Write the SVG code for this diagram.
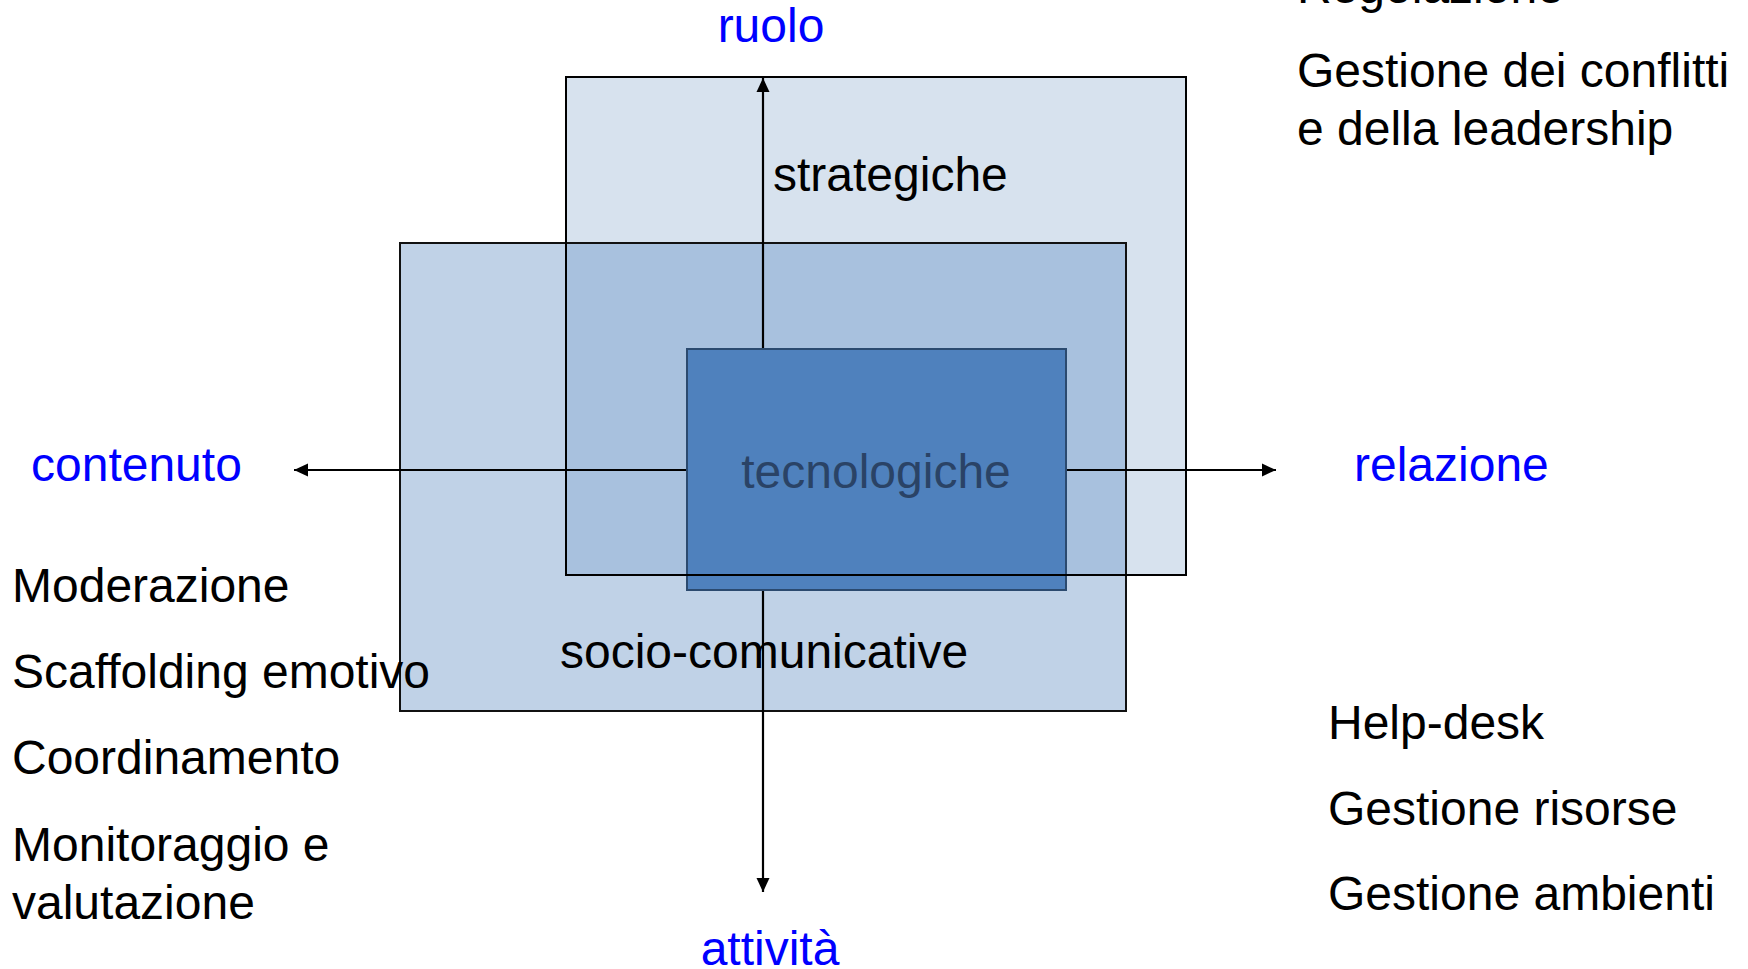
<svg xmlns="http://www.w3.org/2000/svg" width="1748" height="969" viewBox="0 0 1748 969">
<defs>
<style>
text{font-family:"Liberation Sans",Arial,sans-serif;font-size:48px;fill:#000}
.axis{fill:#0000FF}
.conn{stroke:#000;stroke-width:2.2;fill:none}
</style>
<marker id="arr" viewBox="0 0 14 14" refX="14" refY="7" markerWidth="14" markerHeight="14" markerUnits="userSpaceOnUse" orient="auto">
<path d="M0,0.5 L14,7 L0,13.5 z" fill="#000"/>
</marker>
</defs>
<rect width="1748" height="969" fill="#fff"/>
<g id="node-strategiche">
<rect x="566" y="77" width="620" height="498" fill="#D7E2EE" stroke="#000" stroke-width="2"/>
<text x="773" y="191">strategiche</text>
</g>
<g id="node-socio-comunicative">
<rect x="400" y="243" width="726" height="468" fill="#C0D2E7"/>
<rect x="566" y="243" width="560" height="332" fill="#A8C1DE"/>
<rect x="400" y="243" width="726" height="468" fill="none" stroke="#111" stroke-width="2"/>
</g>
<g id="connectors">
<line class="conn" x1="763" y1="349" x2="763" y2="78" marker-end="url(#arr)"/>
<line class="conn" x1="763" y1="590" x2="763" y2="892" marker-end="url(#arr)"/>
<line class="conn" x1="687" y1="470" x2="294" y2="470" marker-end="url(#arr)"/>
<line class="conn" x1="1066" y1="470" x2="1276" y2="470" marker-end="url(#arr)"/>
</g>
<g id="node-tecnologiche">
<rect x="687" y="349" width="379" height="241" fill="#4F81BD" stroke="#2B4A6F" stroke-width="2"/>
<text x="876" y="488" text-anchor="middle" style="fill:#2A4366">tecnologiche</text>
</g>
<g id="strategiche-outline">
<rect x="566" y="77" width="620" height="498" fill="none" stroke="#000" stroke-width="2"/>
</g>
<g id="label-socio">
<text x="560" y="668">socio-comunicative</text>
</g>
<g id="axis-labels">
<text class="axis" x="771" y="42" text-anchor="middle">ruolo</text>
<text class="axis" x="31" y="481">contenuto</text>
<text class="axis" x="1354" y="481">relazione</text>
<text class="axis" x="770" y="965" text-anchor="middle">attività</text>
</g>
<g id="list-relazione-top">
<text x="1297" y="3">Regolazione</text>
<text x="1297" y="87">Gestione dei conflitti</text>
<text x="1297" y="145">e della leadership</text>
</g>
<g id="list-contenuto">
<text x="12" y="602">Moderazione</text>
<text x="12" y="688">Scaffolding emotivo</text>
<text x="12" y="774">Coordinamento</text>
<text x="12" y="861">Monitoraggio e</text>
<text x="12" y="919">valutazione</text>
</g>
<g id="list-relazione-bottom">
<text x="1328" y="739">Help-desk</text>
<text x="1328" y="825">Gestione risorse</text>
<text x="1328" y="910">Gestione ambienti</text>
</g>
</svg>
